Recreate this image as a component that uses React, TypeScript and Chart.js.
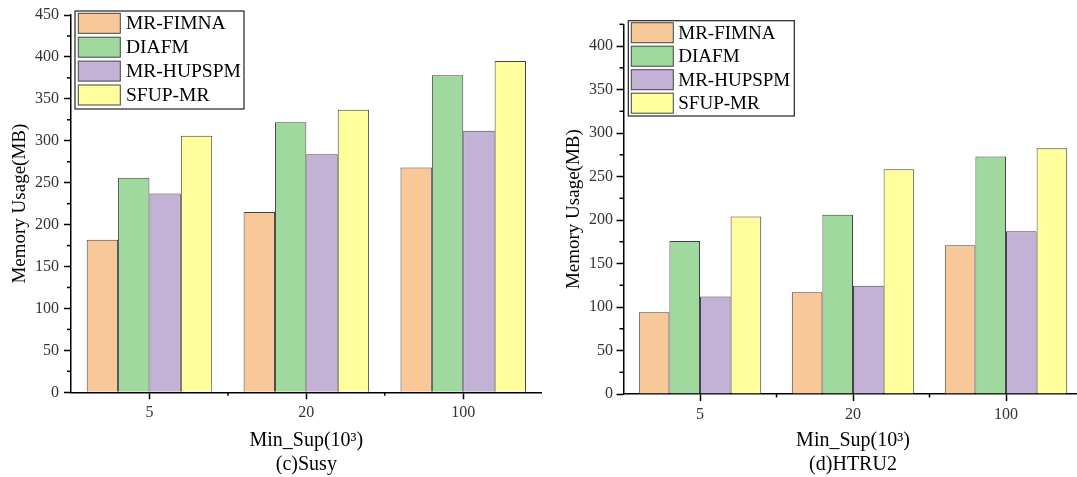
import React, { useEffect, useRef } from 'react';
import { Chart, registerables } from 'chart.js';

Chart.register(...registerables);

// ---------- data ----------
const categories = ['5', '20', '100'];
const seriesNames = ['MR-FIMNA', 'DIAFM', 'MR-HUPSPM', 'SFUP-MR'];
const seriesColors = ['#F9C898', '#9FD99E', '#C3B1D6', '#FFFD9C'];

const susyFIMNA = [182, 215, 268];
const susyDIAFM = [256, 322, 378];
const susyHUPSPM = [237, 284, 312];
const susySFUP = [306, 337, 395];

const htruFIMNA = [94, 117, 171];
const htruDIAFM = [176, 206, 273];
const htruHUPSPM = [112, 124.5, 187];
const htruSFUP = [204, 258.5, 282.5];

const yTitle = 'Memory Usage(MB)';
const xTitle = 'Min_Sup(10\u00B3)';
const susyCaption = '(c)Susy';
const htruCaption = '(d)HTRU2';
const susyYMax = 450;
const htruYMax = 425;
const yStep = 50;
const yMinorStep = 25;

// ---------- layout / style ----------
const FONT = "'Liberation Serif', 'Times New Roman', serif";
const CANVAS_H = 477;

type Layout = {
  canvasLeft: number;
  canvasWidth: number;
  areaLeft: number;
  areaRight: number;
  areaTop: number;
  areaBottom: number;
  yTitlePad: number;
  yTickPad: number;
  xTickPad: number;
  legend: { x: number; y: number; w: number; h: number; pad: number; row: number; font: number; sw: number; tx: number };
};

const leftLayout: Layout = {
  canvasLeft: 0,
  canvasWidth: 545,
  areaLeft: 71,
  areaRight: 541.7,
  areaTop: 15,
  areaBottom: 392.3,
  yTitlePad: 8.6,
  yTickPad: 5,
  xTickPad: 4,
  legend: { x: 75, y: 11, w: 169, h: 98, pad: 2.3, row: 23.9, font: 19.5, sw: 3.3, tx: 51 },
};

const rightLayout: Layout = {
  canvasLeft: 540,
  canvasWidth: 545,
  areaLeft: 83.5,
  areaRight: 542.5,
  areaTop: 24.3,
  areaBottom: 394,
  yTitlePad: 22.6,
  yTickPad: 3.5,
  xTickPad: 4.3,
  legend: { x: 88.3, y: 20.7, w: 166, h: 95.3, pad: 2, row: 23.5, font: 19, sw: 3, tx: 50 },
};

const decorPlugin = {
  id: 'decor',
  afterDraw(chart: any, _args: any, opts: any) {
    const ctx = chart.ctx as CanvasRenderingContext2D;
    const xs = chart.scales.x;
    const ys = chart.scales.y;
    ctx.save();
    ctx.strokeStyle = '#000';
    ctx.lineWidth = 1.5;
    // minor y ticks
    for (let v = yMinorStep; v <= ys.max + 1e-6; v += yStep) {
      const py = ys.getPixelForValue(v);
      ctx.beginPath();
      ctx.moveTo(ys.right - 4, py);
      ctx.lineTo(ys.right, py);
      ctx.stroke();
    }
    // minor x ticks between categories
    for (let i = 0; i < categories.length - 1; i++) {
      const px = (xs.getPixelForValue(i) + xs.getPixelForValue(i + 1)) / 2;
      ctx.beginPath();
      ctx.moveTo(px, xs.top);
      ctx.lineTo(px, xs.top + 3.5);
      ctx.stroke();
    }
    // legend box
    const L = opts.legend;
    ctx.fillStyle = '#fff';
    ctx.fillRect(L.x, L.y, L.w, L.h);
    ctx.lineWidth = 1.2;
    ctx.strokeStyle = '#222';
    ctx.strokeRect(L.x, L.y, L.w, L.h);
    chart.data.datasets.forEach((ds: any, i: number) => {
      const sy = L.y + L.pad + i * L.row;
      ctx.fillStyle = ds.backgroundColor;
      ctx.fillRect(L.x + L.sw, sy, 42, 20);
      ctx.strokeStyle = '#444';
      ctx.lineWidth = 1;
      ctx.strokeRect(L.x + L.sw, sy, 42, 20);
      ctx.fillStyle = '#000';
      ctx.font = `${L.font}px ${FONT}`;
      ctx.textBaseline = 'middle';
      ctx.textAlign = 'left';
      ctx.fillText(ds.label, L.x + L.tx, sy + 11);
    });
    ctx.restore();
  },
};

function makeConfig(values: number[][], yMax: number, caption: string, L: Layout): any {
  return {
    type: 'bar',
    data: {
      labels: categories,
      datasets: seriesNames.map((name, i) => ({
        label: name,
        data: values[i],
        backgroundColor: seriesColors[i],
        borderColor: '#444',
        borderWidth: 1,
        categoryPercentage: 0.8,
        barPercentage: 1.0,
      })),
    },
    options: {
      responsive: false,
      animation: false,
      layout: { padding: { left: 0, top: L.areaTop, right: L.canvasWidth - L.areaRight, bottom: 0 } },
      plugins: {
        legend: { display: false },
        tooltip: { enabled: false },
        decor: { legend: L.legend },
      },
      scales: {
        x: {
          type: 'category',
          offset: true,
          grid: {
            display: true,
            offset: false,
            drawOnChartArea: false,
            drawTicks: true,
            tickLength: 7,
            tickWidth: 1.5,
            tickColor: '#000',
            color: '#000',
          },
          border: { display: true, color: '#000', width: 1.5 },
          ticks: {
            font: { family: FONT, size: 16 },
            color: '#333',
            padding: L.xTickPad,
            maxRotation: 0,
            autoSkip: false,
          },
          title: {
            display: true,
            text: [xTitle, caption],
            font: { family: FONT, size: 20, lineHeight: 1.2 },
            color: '#000',
            padding: { top: 0, bottom: 0 },
          },
          afterFit: (s: any) => {
            s.height = CANVAS_H - L.areaBottom;
          },
        },
        y: {
          min: 0,
          max: yMax,
          ticks: {
            stepSize: yStep,
            font: { family: FONT, size: 16 },
            color: '#333',
            padding: L.yTickPad,
          },
          afterBuildTicks: (s: any) => {
            s.ticks = s.ticks.filter((t: any) => t.value % yStep === 0);
          },
          grid: {
            display: true,
            drawOnChartArea: false,
            drawTicks: true,
            tickLength: 7,
            tickWidth: 1.5,
            tickColor: '#000',
            color: '#000',
          },
          border: { display: true, color: '#000', width: 1.5 },
          title: {
            display: true,
            text: yTitle,
            font: { family: FONT, size: 19, lineHeight: 1.2 },
            color: '#000',
            padding: { top: L.yTitlePad, bottom: 0 },
          },
          afterFit: (s: any) => {
            s.width = L.areaLeft;
          },
        },
      },
    },
    plugins: [decorPlugin],
  };
}

export default function App() {
  const leftRef = useRef<HTMLCanvasElement | null>(null);
  const rightRef = useRef<HTMLCanvasElement | null>(null);

  useEffect(() => {
    const c1 = new Chart(
      leftRef.current as HTMLCanvasElement,
      makeConfig([susyFIMNA, susyDIAFM, susyHUPSPM, susySFUP], susyYMax, susyCaption, leftLayout)
    );
    const c2 = new Chart(
      rightRef.current as HTMLCanvasElement,
      makeConfig([htruFIMNA, htruDIAFM, htruHUPSPM, htruSFUP], htruYMax, htruCaption, rightLayout)
    );
    return () => {
      c1.destroy();
      c2.destroy();
    };
  }, []);

  return (
    <div
      style={{
        position: 'fixed',
        left: 0,
        top: 0,
        width: 1077,
        height: CANVAS_H,
        overflow: 'hidden',
        background: '#fff',
      }}
    >
      <canvas
        ref={leftRef}
        width={leftLayout.canvasWidth}
        height={CANVAS_H}
        style={{ position: 'absolute', left: leftLayout.canvasLeft, top: 0, width: leftLayout.canvasWidth, height: CANVAS_H }}
      />
      <canvas
        ref={rightRef}
        width={rightLayout.canvasWidth}
        height={CANVAS_H}
        style={{ position: 'absolute', left: rightLayout.canvasLeft, top: 0, width: rightLayout.canvasWidth, height: CANVAS_H }}
      />
    </div>
  );
}
